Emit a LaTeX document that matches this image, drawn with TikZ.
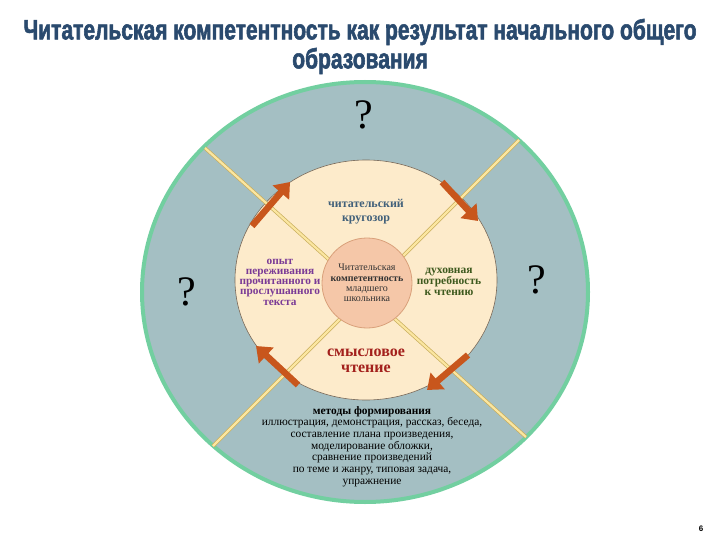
\documentclass[tikz,border=0pt]{standalone}
\usepackage{fontspec}
\setmainfont{Liberation Serif}
\newfontfamily\titlefont[FakeStretch=0.75,FakeBold=2]{Liberation Sans}
\newfontfamily\numfont{Liberation Sans}
\usetikzlibrary{arrows.meta}
\definecolor{outerfill}{HTML}{A4BFC3}
\definecolor{outerring}{HTML}{72CFA0}
\definecolor{innerfill}{HTML}{FDEBCB}
\definecolor{innerring}{HTML}{7A6A5A}
\definecolor{corefill}{HTML}{F5C7A8}
\definecolor{corering}{HTML}{D9A07A}
\definecolor{divdark}{HTML}{C9AE5C}
\definecolor{divlight}{HTML}{FBE6A0}
\definecolor{arrowc}{HTML}{C8561C}
\definecolor{titlec}{HTML}{2A4A6E}
\definecolor{horizc}{HTML}{41607A}
\definecolor{expc}{HTML}{7A3A96}
\definecolor{spiritc}{HTML}{3E5A1E}
\definecolor{sensec}{HTML}{A3201C}
\begin{document}
\begin{tikzpicture}[x=1pt,y=-1pt,
  titlestyle/.style={text=titlec,font=\titlefont\bfseries\fontsize{28}{30}\selectfont,inner sep=0},
  outerdisc/.style={fill=outerfill,draw=outerring,line width=4pt},
  innerdisc/.style={fill=innerfill,draw=innerring,line width=0.6pt},
  divout/.style={draw=divdark,line width=3.6pt},
  divin/.style={draw=divlight,line width=2.2pt},
  core/.style={circle,fill=corefill,draw=corering,line width=0.8pt,minimum size=90pt,inner sep=0,align=center,text=black!80,font=\fontsize{10}{10.4}\selectfont},
  qmark/.style={font=\fontsize{42}{44}\selectfont,inner sep=0},
  sector/.style={align=center,inner sep=0,font=\bfseries\fontsize{10.5}{10.5}\selectfont},
  blockarrow/.style={draw=arrowc,line width=6.5pt,-{Triangle[width=21pt,length=14pt]}}
]
\useasboundingbox (0,0) rectangle (720,540);
\fill[white] (0,0) rectangle (720,540);

\node[titlestyle] (title1) at (360,32) {Читательская компетентность как результат начального общего};
\node[titlestyle] (title2) at (360,61) {образования};

\coordinate (O) at (365,292);
\draw[outerdisc] (O) ellipse [x radius=223pt, y radius=210pt];
\coordinate (I) at (366,280);
\draw[innerdisc] (I) ellipse [x radius=131pt, y radius=120pt];

\coordinate (l1a) at (205,148);
\coordinate (l1b) at (526,437);
\coordinate (l2a) at (519,140);
\coordinate (l2b) at (213,446);
\draw[divout] (l1a) -- (l1b);
\draw[divout] (l2a) -- (l2b);
\draw[divin] (l1a) -- (l1b);
\draw[divin] (l2a) -- (l2b);

\node[core] (core) at (367,283) {Читательская\\\textbf{компетентность}\\младшего\\школьника};

\node[qmark] (q1) at (364,115) {?};
\node[qmark] (q2) at (187,292) {?};
\node[qmark] (q3) at (537,280) {?};

\node[sector,text=horizc,font=\bfseries\fontsize{12}{14}\selectfont] (horiz) at (366,212) {читательский\\кругозор};
\node[sector,text=expc,font=\bfseries\fontsize{11.3}{10.2}\selectfont] (exp) at (280,282) {опыт\\переживания\\прочитанного и\\прослушанного\\текста};
\node[sector,text=spiritc,font=\bfseries\fontsize{11.5}{10.8}\selectfont] (spirit) at (449,282) {духовная\\потребность\\к чтению};
\node[sector,text=sensec,font=\bfseries\fontsize{16}{16}\selectfont] (sense) at (366,361) {смысловое\\чтение};

\node[align=center,inner sep=0,font=\fontsize{11.4}{11.7}\selectfont,anchor=north] (methods) at (372,406) {\textbf{методы формирования}\\иллюстрация, демонстрация, рассказ, беседа,\\составление плана произведения,\\моделирование обложки,\\сравнение произведений\\по теме и жанру, типовая задача,\\упражнение};

\coordinate (a1s) at (252,226);
\coordinate (a1e) at (290,182);
\coordinate (a2s) at (442,182);
\coordinate (a2e) at (478,221);
\coordinate (a3s) at (468,355);
\coordinate (a3e) at (427,390);
\coordinate (a4s) at (298,385);
\coordinate (a4e) at (256,346);
\draw[blockarrow] (a1s) -- (a1e);
\draw[blockarrow] (a2s) -- (a2e);
\draw[blockarrow] (a3s) -- (a3e);
\draw[blockarrow] (a4s) -- (a4e);

\node[font=\numfont\bfseries\fontsize{8}{9}\selectfont,inner sep=0] (page) at (701,529) {6};
\end{tikzpicture}
\end{document}
